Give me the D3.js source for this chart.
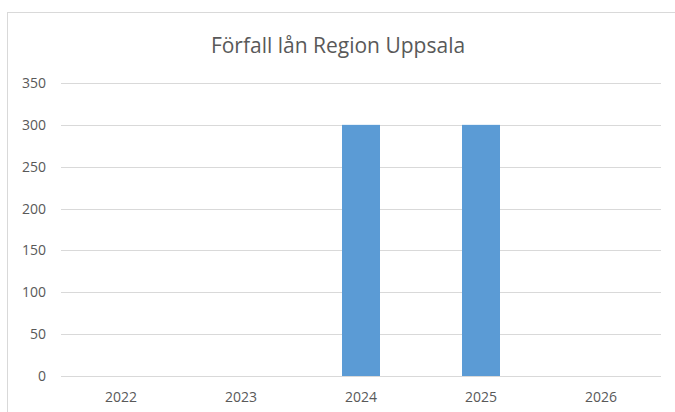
<!DOCTYPE html>
<html lang="sv">
<head>
<meta charset="UTF-8">
<title>Förfall lån Region Uppsala</title>
<script src="https://d3js.org/d3.v7.min.js"></script>
<style>
  body { margin: 0; background: #fff; }
  svg text { font-family: "Open Sans", "Noto Sans", sans-serif; fill: #595959; }
</style>
</head>
<body>
<div id="chart"></div>
<script>
const years = ["2022", "2023", "2024", "2025", "2026"];
const values = [0, 0, 300, 300, 0];
const yTicks = [0, 50, 100, 150, 200, 250, 300, 350];
const title = "Förfall lån Region Uppsala";

const W = 675, H = 412;
const svg = d3.select("#chart").append("svg")
  .attr("width", W).attr("height", H);

// chart area border (extends past right and bottom edges)
svg.append("rect")
  .attr("x", 7.5).attr("y", 12.5)
  .attr("width", 700).attr("height", 420)
  .attr("fill", "#fff")
  .attr("stroke", "#d9d9d9");

svg.append("text")
  .attr("x", 338).attr("y", 53)
  .attr("text-anchor", "middle")
  .style("font-size", "21px")
  .text(title);

const x = d3.scaleBand().domain(years).range([61, 661]);
const y = d3.scaleLinear().domain([0, 350]).range([376, 83]);

// gridlines
svg.append("g")
  .selectAll("line")
  .data(yTicks)
  .join("line")
  .attr("x1", 61).attr("x2", 661)
  .attr("y1", d => Math.round(y(d)) + 0.5)
  .attr("y2", d => Math.round(y(d)) + 0.5)
  .attr("stroke", "#d9d9d9");

// y axis labels
const yAxis = d3.axisLeft(y).tickValues(yTicks).tickSize(0).tickPadding(0);
svg.append("g")
  .attr("transform", "translate(46,0)")
  .call(yAxis)
  .call(g => g.select(".domain").remove())
  .call(g => g.selectAll("text").style("font-size", "14px").attr("fill", "#595959"));

// bars
const barW = 38;
svg.append("g")
  .selectAll("rect")
  .data(years.map((yr, i) => ({ yr, v: values[i] })))
  .join("rect")
  .attr("x", d => x(d.yr) + x.bandwidth() / 2 - barW / 2)
  .attr("y", d => y(d.v))
  .attr("width", barW)
  .attr("height", d => y(0) - y(d.v))
  .attr("fill", "#5b9bd5");

// x axis labels
const xAxis = d3.axisBottom(x).tickSize(0).tickPadding(16);
svg.append("g")
  .attr("transform", `translate(0,${y(0)})`)
  .call(xAxis)
  .call(g => g.select(".domain").remove())
  .call(g => g.selectAll("text").style("font-size", "14px").attr("fill", "#595959"));
</script>
</body>
</html>
